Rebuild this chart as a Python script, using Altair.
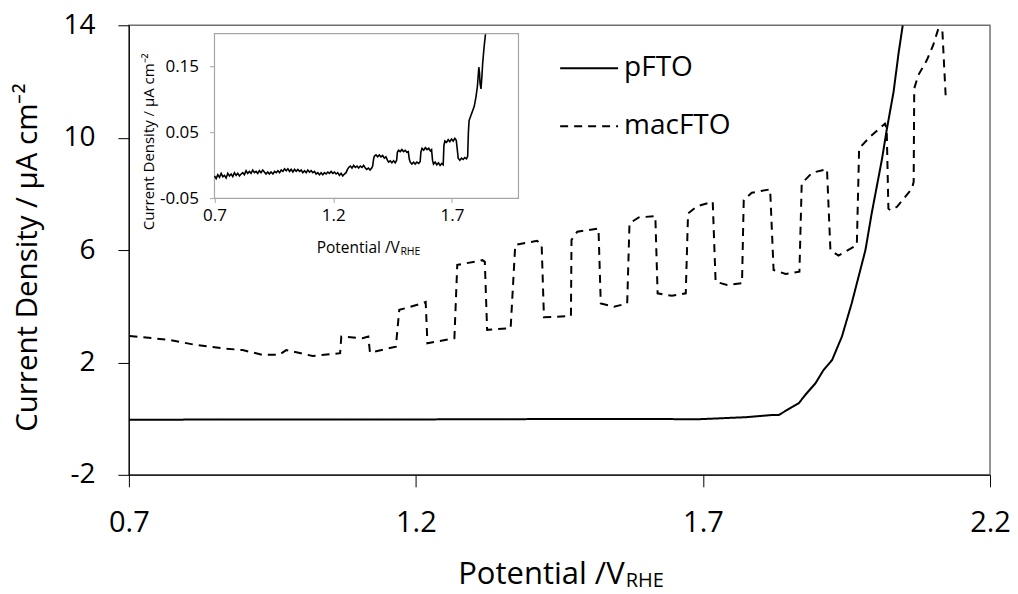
import altair as alt
import pandas as pd

# ---------------- data ----------------
series = ["pFTO", "macFTO"]

mac_x = [0.701, 0.724, 0.771, 0.817, 0.864, 0.898, 0.933, 0.962, 0.974, 1.020,
         1.055, 1.068, 1.070, 1.107, 1.117, 1.120, 1.165, 1.171, 1.211, 1.217,
         1.220, 1.267, 1.272, 1.316, 1.320, 1.324, 1.365, 1.373, 1.411, 1.419,
         1.423, 1.470, 1.471, 1.481, 1.518, 1.522, 1.545, 1.568, 1.572, 1.588,
         1.617, 1.621, 1.646, 1.670, 1.674, 1.690, 1.717, 1.722, 1.742, 1.768,
         1.771, 1.785, 1.817, 1.823, 1.844, 1.868, 1.872, 1.890, 1.916, 1.922,
         1.936, 1.968, 1.972, 1.991, 2.017, 2.020, 2.023, 2.026, 2.038, 2.064,
         2.067, 2.068, 2.075, 2.090, 2.101, 2.110, 2.117, 2.120, 2.123]
mac_y = [2.94, 2.90, 2.80, 2.62, 2.50, 2.44, 2.27, 2.27, 2.44, 2.23,
         2.30, 2.33, 2.92, 2.86, 2.92, 2.35, 2.56, 3.87, 4.10, 4.15,
         2.68, 2.86, 5.47, 5.64, 5.58, 3.16, 3.22, 6.18, 6.33, 6.18,
         3.61, 3.65, 6.36, 6.65, 6.77, 4.10, 3.98, 4.10, 6.95, 7.16,
         7.21, 4.46, 4.37, 4.46, 7.30, 7.56, 7.72, 4.87, 4.76, 4.82,
         7.78, 8.04, 8.16, 5.29, 5.15, 5.23, 8.37, 8.75, 8.88, 6.00,
         5.80, 6.18, 9.62, 10.03, 10.50, 10.33, 7.48, 7.42, 7.54, 8.19,
         8.43, 11.75, 12.22, 12.76, 13.29, 13.88, 13.82, 12.58, 11.39]

p_x = [0.700, 0.900, 1.171, 1.350, 1.519, 1.693, 1.774, 1.820, 1.832, 1.855,
       1.867, 1.878, 1.896, 1.910, 1.925, 1.942, 1.959, 1.971, 1.983, 1.994,
       2.006, 2.012, 2.020, 2.032, 2.041, 2.048]
p_y = [-0.04, -0.03, -0.03, -0.02, -0.01, -0.02, 0.05, 0.13, 0.13, 0.41,
       0.55, 0.84, 1.26, 1.73, 2.09, 2.92, 4.10, 5.05, 6.00, 7.32,
       8.61, 9.26, 10.27, 11.63, 13.05, 14.0]

inset_x = [0.700, 0.707, 0.714, 0.721, 0.728, 0.735, 0.742, 0.749, 0.756, 0.763,
           0.770, 0.777, 0.784, 0.791, 0.798, 0.805, 0.812, 0.819, 0.826, 0.833,
           0.840, 0.847, 0.854, 0.861, 0.868, 0.875, 0.882, 0.889, 0.896, 0.903,
           0.910, 0.917, 0.924, 0.931, 0.938, 0.946, 0.953, 0.960, 0.967, 0.974,
           0.981, 0.988, 0.995, 1.002, 1.009, 1.016, 1.023, 1.030, 1.037, 1.044,
           1.051, 1.058, 1.065, 1.072, 1.079, 1.086, 1.093, 1.100, 1.107, 1.114,
           1.121, 1.128, 1.135, 1.142, 1.149, 1.156, 1.163, 1.170, 1.177, 1.184,
           1.191, 1.198, 1.205, 1.212, 1.219, 1.226, 1.233, 1.240, 1.247, 1.254,
           1.260, 1.265, 1.272, 1.279, 1.286, 1.293, 1.300, 1.307, 1.314, 1.321,
           1.328, 1.335, 1.341, 1.348, 1.355, 1.362, 1.366, 1.370, 1.373, 1.380,
           1.387, 1.394, 1.401, 1.408, 1.415, 1.422, 1.428, 1.433, 1.440, 1.447,
           1.454, 1.461, 1.467, 1.470, 1.475, 1.482, 1.489, 1.496, 1.503, 1.510,
           1.516, 1.520, 1.524, 1.531, 1.538, 1.545, 1.552, 1.560, 1.566, 1.569,
           1.574, 1.581, 1.588, 1.595, 1.602, 1.609, 1.614, 1.618, 1.622, 1.629,
           1.636, 1.643, 1.650, 1.657, 1.663, 1.666, 1.670, 1.677, 1.684, 1.691,
           1.698, 1.705, 1.712, 1.718, 1.722, 1.726, 1.733, 1.740, 1.747, 1.754,
           1.761, 1.766, 1.769, 1.772, 1.780, 1.787, 1.794, 1.801, 1.807, 1.813,
           1.816, 1.818, 1.822, 1.826, 1.829, 1.835, 1.841]
inset_y = [-0.016, -0.020, -0.014, -0.018, -0.012, -0.017, -0.015, -0.019, -0.012, -0.016,
           -0.013, -0.017, -0.011, -0.015, -0.012, -0.016, -0.013, -0.011, -0.014, -0.008,
           -0.012, -0.009, -0.012, -0.007, -0.011, -0.009, -0.012, -0.008, -0.011, -0.007,
           -0.010, -0.013, -0.010, -0.013, -0.010, -0.013, -0.009, -0.011, -0.008, -0.011,
           -0.007, -0.009, -0.005, -0.008, -0.005, -0.009, -0.006, -0.010, -0.006, -0.009,
           -0.006, -0.009, -0.007, -0.011, -0.008, -0.011, -0.007, -0.010, -0.008, -0.011,
           -0.009, -0.013, -0.011, -0.014, -0.011, -0.014, -0.011, -0.013, -0.010, -0.012,
           -0.009, -0.012, -0.010, -0.013, -0.011, -0.015, -0.012, -0.016, -0.013, -0.011,
           -0.006, -0.003, -0.001, -0.004, 0.000, -0.003, -0.001, -0.004, -0.001, -0.003,
           0.000, -0.004, -0.006, -0.004, -0.007, -0.004, -0.001, 0.010, 0.014, 0.016,
           0.013, 0.016, 0.013, 0.015, 0.011, 0.013, 0.008, 0.005, 0.007, 0.004,
           0.007, 0.004, 0.008, 0.020, 0.023, 0.021, 0.024, 0.021, 0.023, 0.020,
           0.021, 0.010, 0.005, 0.002, 0.005, 0.002, 0.005, 0.003, 0.006, 0.020,
           0.026, 0.023, 0.027, 0.024, 0.026, 0.022, 0.024, 0.008, 0.002, 0.005,
           0.001, 0.004, 0.000, 0.003, 0.001, 0.030, 0.037, 0.035, 0.039, 0.036,
           0.040, 0.037, 0.041, 0.038, 0.025, 0.011, 0.008, 0.011, 0.009, 0.012,
           0.010, 0.014, 0.050, 0.068, 0.076, 0.083, 0.090, 0.104, 0.120, 0.149,
           0.140, 0.125, 0.116, 0.135, 0.154, 0.179, 0.199]

x_domain = [0.7, 2.2]
y_domain = [-2, 14]
x_ticks = [0.7, 1.2, 1.7, 2.2]
y_ticks = [-2, 2, 6, 10, 14]
inset_x_domain = [0.7, 1.98]
inset_y_domain = [-0.05, 0.2]
inset_x_ticks = [0.7, 1.2, 1.7]
inset_y_ticks = [-0.05, 0.05, 0.15]

# ---------------- layout ----------------
W, H = 862, 450
FONT = "Open Sans"
INSET_GRAY = "#a6a6a6"
FIX_MINUS = "replace(format(datum.value, '{f}'), '\u2212', '-')"

main_df = pd.concat([
    pd.DataFrame({"V": p_x, "J": p_y, "series": "pFTO", "k": range(len(p_x))}),
    pd.DataFrame({"V": mac_x, "J": mac_y, "series": "macFTO", "k": range(len(mac_x))}),
], ignore_index=True)

x_axis = alt.Axis(values=x_ticks, labelExpr=FIX_MINUS.format(f=".1f"), grid=False,
                  labelFlush=False, domainColor="black", tickColor="black", tickSize=12,
                  labelPadding=22, labelFontSize=29, labelColor="black", labelFont=FONT,
                  title="Potential /V", titleFont=FONT, titleFontSize=31, titleFontWeight="normal",
                  titleColor="black", titleX=495.7, titleY=109, titleAlign="right",
                  titleBaseline="alphabetic", orient="bottom")
y_axis = alt.Axis(values=y_ticks, labelExpr=FIX_MINUS.format(f="d"), grid=False,
                  labelFlush=False, domainColor="black", tickColor="black", tickSize=11,
                  labelPadding=23, labelFontSize=28, labelColor="black", labelFont=FONT,
                  title="Current Density / µA cm\u207b\u00b2", titleFont=FONT, titleFontSize=29.5,
                  titleFontWeight="normal", titleColor="black", titleAngle=270,
                  titleX=-92, titleY=232, titleAlign="center", titleBaseline="alphabetic",
                  orient="left")

main = alt.Chart(main_df).mark_line(strokeWidth=2, color="black", clip=True).encode(
    x=alt.X("V:Q", scale=alt.Scale(domain=x_domain, nice=False, zero=False), axis=x_axis),
    y=alt.Y("J:Q", scale=alt.Scale(domain=y_domain, nice=False, zero=False), axis=y_axis),
    strokeDash=alt.StrokeDash(
        "series:N",
        scale=alt.Scale(domain=series, range=[[1, 0], [8, 6]]),
        legend=alt.Legend(title=None, orient="none", legendX=430.7, legendY=13,
                          symbolType="stroke", symbolSize=3364, symbolStrokeWidth=2,
                          symbolStrokeColor="black", labelFontSize=28, labelFont=FONT,
                          labelColor="black", labelOffset=5, rowPadding=14, padding=0)),
    order=alt.Order("k:Q"),
)

# ---------------- inset ----------------
ixs = alt.Scale(domain=inset_x_domain, range=[85.7, 390], nice=False, zero=False)
iys = alt.Scale(domain=inset_y_domain, range=[173.3, 8.3], nice=False, zero=False)

ix_axis = alt.Axis(values=inset_x_ticks, format=".1f", orient="bottom", offset=-276.7,
                   domain=False, grid=False, labelFlush=False, tickColor=INSET_GRAY, tickSize=4,
                   labelPadding=5, labelFontSize=17, labelColor="black", labelFont=FONT,
                   title="Potential /V", titleFont=FONT, titleFontSize=15.5,
                   titleFontWeight="normal", titleColor="black", titleX=270.7, titleY=54,
                   titleAlign="right", titleBaseline="alphabetic")
iy_axis = alt.Axis(values=inset_y_ticks, labelExpr=FIX_MINUS.format(f=".2f"), orient="left",
                   offset=-85.7, domain=False, grid=False, labelFlush=False,
                   tickColor=INSET_GRAY, tickSize=5,
                   labelPadding=11, labelFontSize=17, labelColor="black", labelFont=FONT,
                   title="Current Density / µA cm\u207b\u00b2", titleFont=FONT, titleFontSize=15,
                   titleFontWeight="normal", titleColor="black", titleAngle=270,
                   titleX=-61, titleY=116, titleAlign="center", titleBaseline="alphabetic")

box_df = pd.DataFrame({"x1": [inset_x_domain[0]], "x2": [inset_x_domain[1]],
                       "y1": [inset_y_domain[0]], "y2": [inset_y_domain[1]]})
box = alt.Chart(box_df).mark_rect(fill="white", stroke=INSET_GRAY, strokeWidth=1.2).encode(
    x=alt.X("x1:Q", scale=ixs, axis=ix_axis), x2="x2:Q",
    y=alt.Y("y1:Q", scale=iys, axis=iy_axis), y2="y2:Q",
)
inset_df = pd.DataFrame({"V": inset_x, "J": inset_y})
iline = alt.Chart(inset_df).mark_line(color="black", strokeWidth=1.6).encode(
    x=alt.X("V:Q", scale=ixs, axis=ix_axis),
    y=alt.Y("J:Q", scale=iys, axis=iy_axis),
)
inset = alt.layer(box, iline)

# ---------------- subscripts ----------------
sub_df = pd.DataFrame({"t": ["RHE"]})
sub_main = alt.Chart(sub_df).mark_text(align="left", baseline="alphabetic", font=FONT,
                                       fontSize=20, color="black").encode(
    text="t:N", x=alt.value(497.4), y=alt.value(562))
sub_inset = alt.Chart(sub_df).mark_text(align="left", baseline="alphabetic", font=FONT,
                                        fontSize=10.5, color="black").encode(
    text="t:N", x=alt.value(271.8), y=alt.value(229.7))

chart = alt.layer(main, inset, sub_main, sub_inset).resolve_scale(
    x="independent", y="independent"
).properties(
    width=W, height=H,
    padding={"left": 121, "top": 17, "right": 20, "bottom": 122},
    autosize=alt.AutoSizeParams(type="none"),
).configure_view(stroke="#707070", strokeWidth=1.5)

chart.save("out.html", embed_options={"renderer": "svg", "actions": False})
